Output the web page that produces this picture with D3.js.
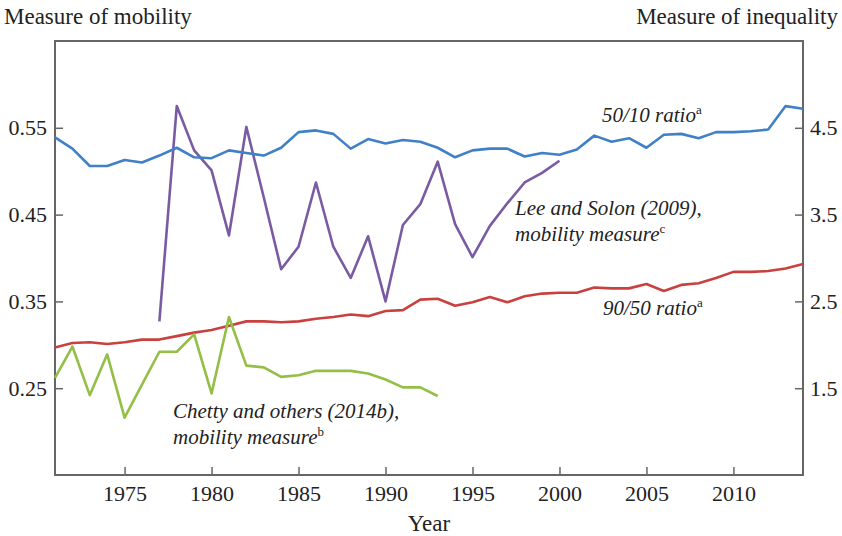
<!DOCTYPE html>
<html lang="en">
<head>
<meta charset="utf-8">
<title>Mobility and inequality</title>
<script src="https://d3js.org/d3.v7.min.js"></script>
<style>
  body { margin: 0; background: #fff; }
  svg { font-family: "Liberation Serif", "Times New Roman", serif; }
  .tick text { font-size: 22px; fill: #222; }
  .tick line { stroke: #666; stroke-width: 1.5; }
  .note { font-size: 21px; font-style: italic; fill: #222; }
  .sup { font-size: 13px; font-style: normal; }
</style>
</head>
<body>
<script>
// inequality series, 1971-2014 (right axis)
const ineqStart = 1971;
const ratio5010 = [4.39, 4.26, 4.06, 4.06, 4.13, 4.10, 4.18, 4.27, 4.16, 4.15,
                   4.24, 4.21, 4.18, 4.27, 4.45, 4.47, 4.43, 4.26, 4.37, 4.32,
                   4.36, 4.34, 4.27, 4.16, 4.24, 4.26, 4.26, 4.17, 4.21, 4.19,
                   4.25, 4.41, 4.34, 4.38, 4.27, 4.42, 4.43, 4.38, 4.45, 4.45,
                   4.46, 4.48, 4.75, 4.72];
const ratio9050 = [1.97, 2.02, 2.03, 2.01, 2.03, 2.06, 2.06, 2.10, 2.14, 2.17,
                   2.22, 2.27, 2.27, 2.26, 2.27, 2.30, 2.32, 2.35, 2.33, 2.39,
                   2.40, 2.52, 2.53, 2.45, 2.49, 2.55, 2.49, 2.56, 2.59, 2.60,
                   2.60, 2.66, 2.65, 2.65, 2.70, 2.62, 2.69, 2.71, 2.77, 2.84,
                   2.84, 2.85, 2.88, 2.93];

// mobility series (left axis)
const leeStart = 1977;
const leeSolon = [0.327, 0.575, 0.524, 0.501, 0.426, 0.551, 0.470, 0.387, 0.413, 0.487,
                  0.413, 0.377, 0.425, 0.350, 0.438, 0.462, 0.511, 0.439, 0.401, 0.437,
                  0.463, 0.487, 0.498, 0.512];
const chettyStart = 1971;
const chetty = [0.262, 0.298, 0.242, 0.289, 0.216, 0.254, 0.292, 0.292, 0.312, 0.244,
                0.332, 0.276, 0.274, 0.263, 0.265, 0.270, 0.270, 0.270, 0.267, 0.260,
                0.251, 0.251, 0.241];

const yearTicks = [1975, 1980, 1985, 1990, 1995, 2000, 2005, 2010];
const leftTicks = [0.25, 0.35, 0.45, 0.55];
const rightTicks = [1.5, 2.5, 3.5, 4.5];

const w = 842, h = 536;
const m = { left: 55, right: 803, top: 41, bottom: 475 };

const svg = d3.select("body").append("svg")
  .attr("width", w)
  .attr("height", h);

const x = d3.scaleLinear().domain([1971, 2014]).range([m.left, m.right]);
const yL = d3.scaleLinear().domain([0.15, 0.65]).range([m.bottom, m.top]);
const yR = d3.scaleLinear().domain([0.5, 5.5]).range([m.bottom, m.top]);

// axes, ticks point inward
function tidy(g) {
  g.attr("font-family", null).attr("font-size", null);
  g.select(".domain").remove();
}

svg.append("g")
  .attr("transform", `translate(${m.left},0)`)
  .call(d3.axisLeft(yL).tickValues(leftTicks).tickFormat(d3.format(".2f"))
    .tickSize(-8).tickSizeOuter(0).tickPadding(8))
  .call(tidy);

svg.append("g")
  .attr("transform", `translate(${m.right},0)`)
  .call(d3.axisRight(yR).tickValues(rightTicks).tickFormat(d3.format(".1f"))
    .tickSize(-8).tickSizeOuter(0).tickPadding(7))
  .call(tidy);

svg.append("g")
  .attr("transform", `translate(0,${m.bottom})`)
  .call(d3.axisBottom(x).tickValues(yearTicks).tickFormat(d3.format("d"))
    .tickSize(-8).tickSizeOuter(0).tickPadding(10))
  .call(tidy);

// frame
svg.append("rect")
  .attr("x", m.left).attr("y", m.top)
  .attr("width", m.right - m.left).attr("height", m.bottom - m.top)
  .attr("fill", "none")
  .attr("stroke", "#666")
  .attr("stroke-width", 2);

function drawSeries(vals, start, yScale, color) {
  const line = d3.line()
    .x((d, i) => x(start + i))
    .y(d => yScale(d));
  svg.append("path")
    .datum(vals)
    .attr("fill", "none")
    .attr("stroke", color)
    .attr("stroke-width", 2.6)
    .attr("stroke-linejoin", "round")
    .attr("d", line);
}

drawSeries(ratio9050, ineqStart, yR, "#c9413f");
drawSeries(chetty, chettyStart, yL, "#93bf47");
drawSeries(leeSolon, leeStart, yL, "#7a5ba3");
drawSeries(ratio5010, ineqStart, yR, "#3f80c6");

// titles
svg.append("text").attr("x", 4).attr("y", 24)
  .attr("font-size", 23).attr("fill", "#222")
  .text("Measure of mobility");
svg.append("text").attr("x", 838).attr("y", 24)
  .attr("text-anchor", "end")
  .attr("font-size", 23).attr("fill", "#222")
  .text("Measure of inequality");
svg.append("text").attr("x", (m.left + m.right) / 2).attr("y", 531)
  .attr("text-anchor", "middle")
  .attr("font-size", 23).attr("fill", "#222")
  .text("Year");

// series notes
function note(xp, yp, lines) {
  const t = svg.append("text").attr("class", "note");
  lines.forEach((ln, i) => {
    t.append("tspan").attr("x", xp).attr("y", yp + i * 25.5).text(ln[0]);
    if (ln[1]) {
      t.append("tspan").attr("class", "sup").attr("dy", -8).text(ln[1]);
    }
  });
}

note(602, 122, [["50/10 ratio", "a"]]);
note(603, 315, [["90/50 ratio", "a"]]);
note(515, 215, [["Lee and Solon (2009),"], ["mobility measure", "c"]]);
note(173, 418, [["Chetty and others (2014b),"], ["mobility measure", "b"]]);
</script>
</body>
</html>
